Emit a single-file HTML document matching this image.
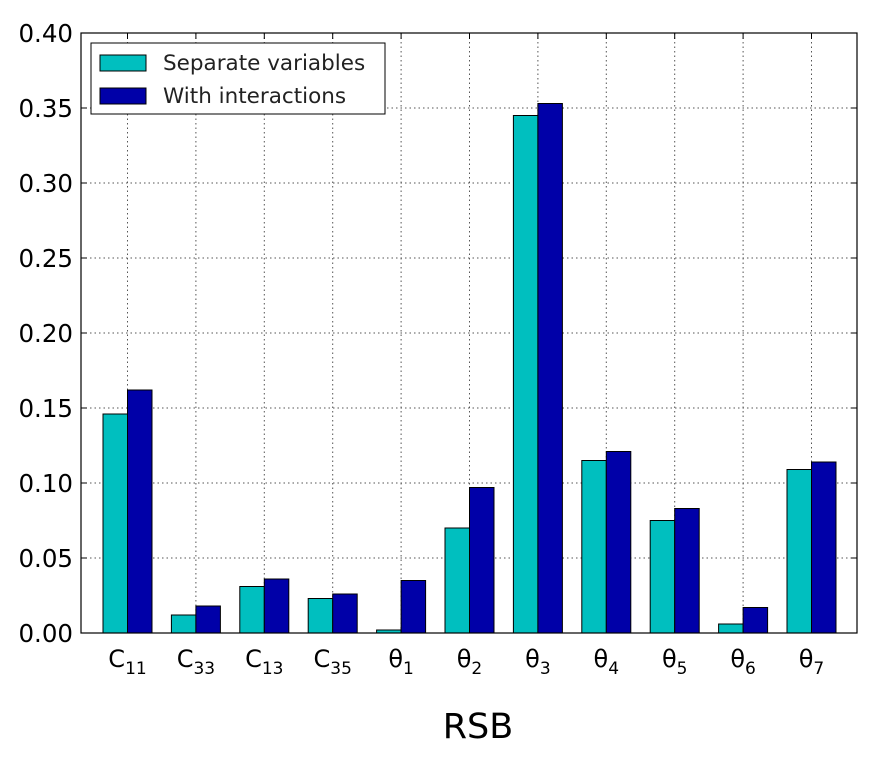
<!DOCTYPE html>
<html><head><meta charset="utf-8"><style>
body{margin:0;background:#fff;}
svg text{font-family:"DejaVu Sans","Liberation Sans",sans-serif;}
</style></head><body>
<svg id="chart" width="876" height="771">
</svg>
<script>
const categories=["C","C","C","C","θ","θ","θ","θ","θ","θ","θ"];
const subs=["11","33","13","35","1","2","3","4","5","6","7"];
const separateValues=[0.146,0.012,0.031,0.023,0.002,0.070,0.345,0.115,0.075,0.006,0.109];
const interactionValues=[0.162,0.018,0.036,0.026,0.035,0.097,0.353,0.121,0.083,0.017,0.114];
const yTicks=[0,0.05,0.10,0.15,0.20,0.25,0.30,0.35,0.40];
const yTickLabels=["0.00","0.05","0.10","0.15","0.20","0.25","0.30","0.35","0.40"];

const svg=document.getElementById('chart');
const NS="http://www.w3.org/2000/svg";
const L=81,R=857,T=33,B=633;
const y=v=>B-(v/0.4)*(B-T);
const xl=i=>103+68.4*i;
const bw=24.5;
function mk(tag,attrs,parent){const e=document.createElementNS(NS,tag);for(const k in attrs)e.setAttribute(k,attrs[k]);(parent||svg).appendChild(e);return e;}
yTicks.forEach((v,i)=>{
 const g=mk('line',{x1:L,x2:R,y1:y(v),y2:y(v),stroke:'#555','stroke-dasharray':'1.5,3','stroke-width':1});
 
 
 const t=mk('text',{x:L-8,y:y(v)+9,'text-anchor':'end','font-size':24.5,fill:'#000'});
 t.textContent=yTickLabels[i];
 
 
 mk('line',{x1:L,x2:L+6,y1:y(v),y2:y(v),stroke:'#000'});
 mk('line',{x1:R,x2:R-6,y1:y(v),y2:y(v),stroke:'#000'});
});
categories.forEach((c,i)=>{
 const cx=xl(i)+bw;
 const g=mk('line',{x1:cx,x2:cx,y1:T,y2:B,stroke:'#555','stroke-dasharray':'1.5,3','stroke-width':1});
 
 
 mk('line',{x1:cx,x2:cx,y1:B,y2:B-6,stroke:'#000'});
 mk('line',{x1:cx,x2:cx,y1:T,y2:T+6,stroke:'#000'});
 const b1=mk('rect',{x:xl(i),y:y(separateValues[i]),width:bw,height:B-y(separateValues[i]),fill:'#00bfbf',stroke:'#000','stroke-width':1});
 
 
 const b2=mk('rect',{x:xl(i)+bw,y:y(interactionValues[i]),width:bw,height:B-y(interactionValues[i]),fill:'#0000a8',stroke:'#000','stroke-width':1});
 
 
 const t=mk('text',{x:cx,y:667,'text-anchor':'middle','font-size':24,fill:'#000'});
 t.innerHTML=c+'<tspan dy="7" font-size="17">'+subs[i]+'</tspan>';
 
 
});
const fr=mk('rect',{x:L,y:T,width:R-L,height:B-T,fill:'none',stroke:'#000','stroke-width':1.2});


const xt=mk('text',{x:478,y:738,'text-anchor':'middle','font-size':35,fill:'#000'});
xt.textContent='RSB';


const lg=mk('g',{});


mk('rect',{x:91,y:43,width:294,height:71,fill:'#fff',stroke:'#000','stroke-width':1},lg);
const e1=mk('rect',{x:100,y:55,width:46,height:16,fill:'#00bfbf',stroke:'#000'},lg);


const t1=mk('text',{x:163,y:70,'font-size':21.5,fill:'#222'},lg);t1.textContent='Separate variables';


const e2=mk('rect',{x:100,y:88,width:46,height:16,fill:'#0000a8',stroke:'#000'},lg);


const t2=mk('text',{x:163,y:103,'font-size':21.5,fill:'#222'},lg);t2.textContent='With interactions';


</script>
</body></html>
